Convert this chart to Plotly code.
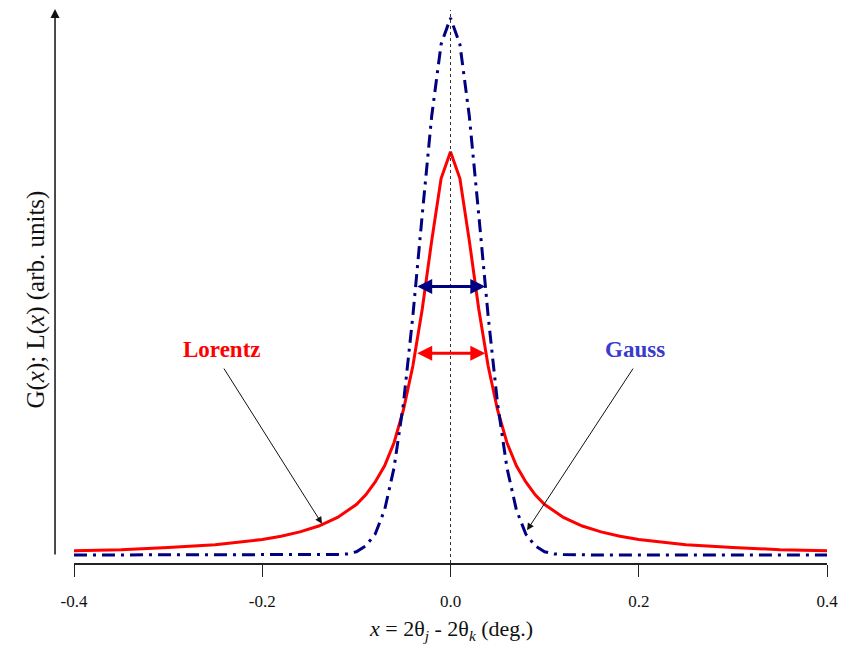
import plotly.graph_objects as go

# ---- data ----
lorentz_x = [-0.40, -0.35, -0.30, -0.25, -0.20, -0.18, -0.16, -0.14, -0.12, -0.10,
             -0.09, -0.08, -0.07, -0.06, -0.05, -0.04, -0.03, -0.02, -0.01, 0.00,
             0.01, 0.02, 0.03, 0.04, 0.05, 0.06, 0.07, 0.08, 0.09, 0.10,
             0.12, 0.14, 0.16, 0.18, 0.20, 0.25, 0.30, 0.35, 0.40]
lorentz_y = [0.008, 0.010, 0.014, 0.019, 0.029, 0.035, 0.043, 0.054, 0.070, 0.094,
             0.112, 0.136, 0.166, 0.209, 0.270, 0.352, 0.458, 0.585, 0.701, 0.751,
             0.701, 0.585, 0.458, 0.352, 0.270, 0.209, 0.166, 0.136, 0.112, 0.094,
             0.070, 0.054, 0.043, 0.035, 0.029, 0.019, 0.014, 0.010, 0.008]

gauss_x = [-0.40, -0.30, -0.20, -0.15, -0.12, -0.11, -0.10, -0.09, -0.08, -0.07,
           -0.06, -0.05, -0.04, -0.03, -0.02, -0.01, 0.00,
           0.01, 0.02, 0.03, 0.04, 0.05, 0.06, 0.07, 0.08, 0.09, 0.10,
           0.11, 0.12, 0.15, 0.20, 0.30, 0.40]
gauss_y = [0.000, 0.000, 0.000, 0.000, 0.001, 0.002, 0.006, 0.017, 0.039, 0.084,
           0.162, 0.282, 0.445, 0.634, 0.817, 0.951, 1.000,
           0.951, 0.817, 0.634, 0.445, 0.282, 0.162, 0.084, 0.039, 0.017, 0.006,
           0.002, 0.001, 0.000, 0.000, 0.000, 0.000]

x_tickvals = [-0.4, -0.2, 0.0, 0.2, 0.4]
x_ticktext = ["-0.4", "-0.2", "0.0", "0.2", "0.4"]

half_width = 0.037  # half width at half maximum (both profiles), read from arrows

SERIF = "Liberation Serif, Times New Roman, serif"
NAVY = "#000080"
RED = "#ff0000"
GAUSS_TXT = "#3a3acc"

fig = go.Figure()
fig.add_trace(go.Scatter(x=lorentz_x, y=lorentz_y, mode="lines", name="Lorentz",
                         line=dict(color=RED, width=3), showlegend=False))
fig.add_trace(go.Scatter(x=gauss_x, y=gauss_y, mode="lines", name="Gauss",
                         line=dict(color=NAVY, width=3, dash="13px,6px,3px,6px"),
                         showlegend=False))

# vertical dotted line at x = 0
fig.add_shape(type="line", xref="x", yref="paper", x0=0, x1=0, y0=0, y1=1.0,
              line=dict(color="#333333", width=1, dash="dot"))

g_half = max(gauss_y) / 2
l_half = max(lorentz_y) / 2

annos = []
# FWHM double arrows
annos.append(dict(x=half_width, y=g_half, ax=-half_width, ay=g_half, xref="x", yref="y",
                  axref="x", ayref="y", text="", showarrow=True, arrowhead=2,
                  arrowside="end+start", arrowsize=1, arrowwidth=3, arrowcolor=NAVY))
annos.append(dict(x=half_width, y=l_half, ax=-half_width, ay=l_half, xref="x", yref="y",
                  axref="x", ayref="y", text="", showarrow=True, arrowhead=2,
                  arrowside="end+start", arrowsize=1, arrowwidth=3, arrowcolor=RED))
# labels
annos.append(dict(x=-0.243, y=0.382, xref="x", yref="y", text="<b>Lorentz</b>",
                  showarrow=False, font=dict(family=SERIF, size=23, color=RED)))
annos.append(dict(x=0.196, y=0.382, xref="x", yref="y", text="<b>Gauss</b>",
                  showarrow=False, font=dict(family=SERIF, size=23, color=GAUSS_TXT)))
# pointer arrows
annos.append(dict(x=-0.1365, y=0.058, ax=-0.2417, ay=0.350, xref="x", yref="y",
                  axref="x", ayref="y", text="", showarrow=True, arrowhead=2,
                  arrowsize=1.4, arrowwidth=1, arrowcolor="#111111"))
annos.append(dict(x=0.0813, y=0.046, ax=0.195, ay=0.350, xref="x", yref="y",
                  axref="x", ayref="y", text="", showarrow=True, arrowhead=2,
                  arrowsize=1.4, arrowwidth=1, arrowcolor="#111111"))
# y axis arrow
annos.append(dict(x=-0.0252, y=1.0018, xref="paper", yref="paper", ax=0, ay=547,
                  axref="pixel", ayref="pixel", text="", showarrow=True, arrowhead=2,
                  arrowsize=1.2, arrowwidth=1.5, arrowcolor="#111111"))
# axis titles
annos.append(dict(x=0.5, y=-0.121, xref="paper", yref="paper", showarrow=False,
                  text="<i>x</i> = 2θ<sub><i>j</i></sub> - 2θ<sub><i>k</i></sub> (deg.)",
                  font=dict(family=SERIF, size=22, color="#111111"),
                  xanchor="center", yanchor="middle"))
annos.append(dict(x=-0.051, y=0.4756, xref="paper", yref="paper", showarrow=False,
                  text="G(<i>x</i>); L(<i>x</i>) (arb. units)", textangle=-90,
                  font=dict(family=SERIF, size=25, color="#111111"),
                  xanchor="center", yanchor="middle"))

fig.update_layout(
    width=851, height=645,
    margin=dict(l=74, r=24, t=10, b=82),
    paper_bgcolor="white", plot_bgcolor="white",
    annotations=annos,
    xaxis=dict(range=[-0.4, 0.4], tickvals=x_tickvals, ticktext=x_ticktext,
               showline=True, linecolor="#222222", linewidth=1.5,
               ticks="outside", ticklen=12, tickwidth=1.2, tickcolor="#222222",
               showgrid=False, zeroline=False, ticklabelstandoff=10,
               tickfont=dict(family=SERIF, size=17, color="#111111")),
    yaxis=dict(range=[-0.0149, 1.0149], visible=False, showgrid=False, zeroline=False),
)

fig.write_html("out.html")
